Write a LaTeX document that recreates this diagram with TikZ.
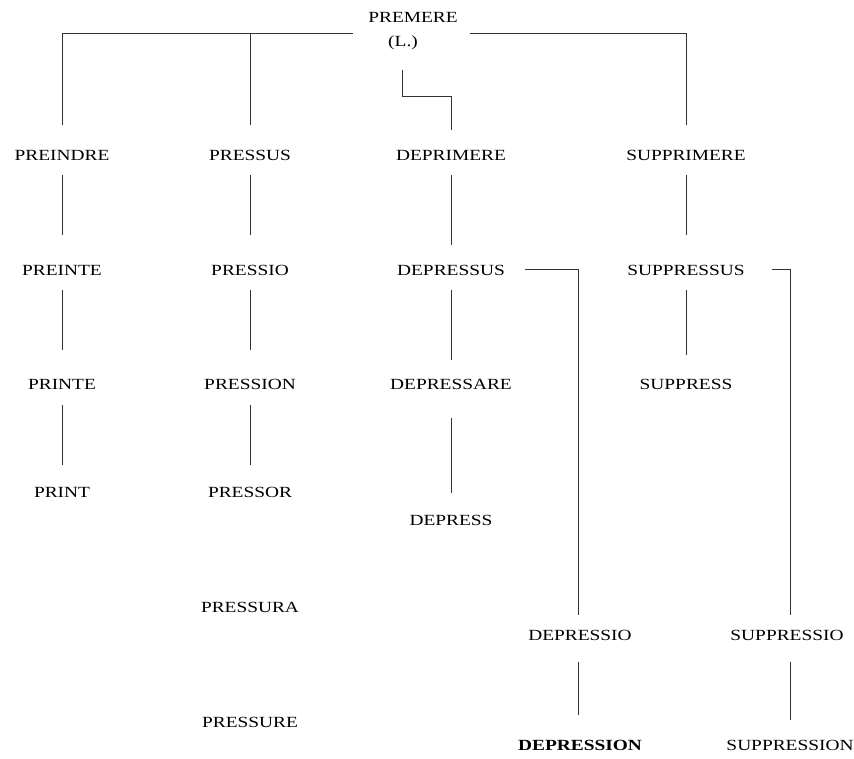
\documentclass[tikz,border=0pt]{standalone}
\usepackage{fontspec}
\setmainfont{Liberation Serif}[FakeStretch=1.25]
\tikzset{
  w/.style={inner sep=0pt, font=\fontsize{15.5}{17}\selectfont},
  ln/.style={draw=black!80, line width=1pt}
}
\begin{document}
\begin{tikzpicture}[x=1pt,y=-1pt]
\useasboundingbox (0,0) rectangle (854,759);
% top
\node[w] (top) at (413,17) {PREMERE};
\node[w] (L) at (403,43) {(L.)};
% row 1
\node[w] (a1) at (62,155) {PREINDRE};
\node[w] (b1) at (250,155) {PRESSUS};
\node[w] (c1) at (451,155) {DEPRIMERE};
\node[w] (d1) at (686,155) {SUPPRIMERE};
% row 2
\node[w] (a2) at (62,270) {PREINTE};
\node[w] (b2) at (250,270) {PRESSIO};
\node[w] (c2) at (451,270) {DEPRESSUS};
\node[w] (d2) at (686,270) {SUPPRESSUS};
% row 3
\node[w] (a3) at (62,384) {PRINTE};
\node[w] (b3) at (250,384) {PRESSION};
\node[w] (c3) at (451,384) {DEPRESSARE};
\node[w] (d3) at (686,384) {SUPPRESS};
% row 4
\node[w] (a4) at (62,492) {PRINT};
\node[w] (b4) at (250,492) {PRESSOR};
\node[w] (c4) at (451,520) {DEPRESS};
% lower
\node[w] (b5) at (250,607) {PRESSURA};
\node[w] (b6) at (250,722) {PRESSURE};
\node[w] (e1) at (580,635) {DEPRESSIO};
\node[w] (e2) at (580,745) {\bfseries DEPRESSION};
\node[w] (f1) at (787,635) {SUPPRESSIO};
\node[w] (f2) at (790,745) {SUPPRESSION};
% connectors from top
\coordinate (tl) at (353,34);
\coordinate (tr) at (470,34);
\draw[ln] (tl) -- (62,34) -- (62,125);
\draw[ln] (250,34) -- (250,125);
\draw[ln] (tr) -- (686,34) -- (686,125);
\draw[ln] (402,70) -- (402,97) -- (451,97) -- (451,130);
% column a
\draw[ln] (62,175) -- (62,235);
\draw[ln] (62,290) -- (62,350);
\draw[ln] (62,405) -- (62,465);
% column b
\draw[ln] (250,175) -- (250,235);
\draw[ln] (250,290) -- (250,350);
\draw[ln] (250,405) -- (250,465);
% column c
\draw[ln] (451,175) -- (451,245);
\draw[ln] (451,290) -- (451,360);
\draw[ln] (451,418) -- (451,493);
% column d
\draw[ln] (686,175) -- (686,235);
\draw[ln] (686,290) -- (686,355);
% branches
\draw[ln] (525,270) -- (578,270) -- (578,615);
\draw[ln] (578,662) -- (578,715);
\draw[ln] (772,270) -- (790,270) -- (790,615);
\draw[ln] (790,662) -- (790,720);
\end{tikzpicture}
\end{document}
